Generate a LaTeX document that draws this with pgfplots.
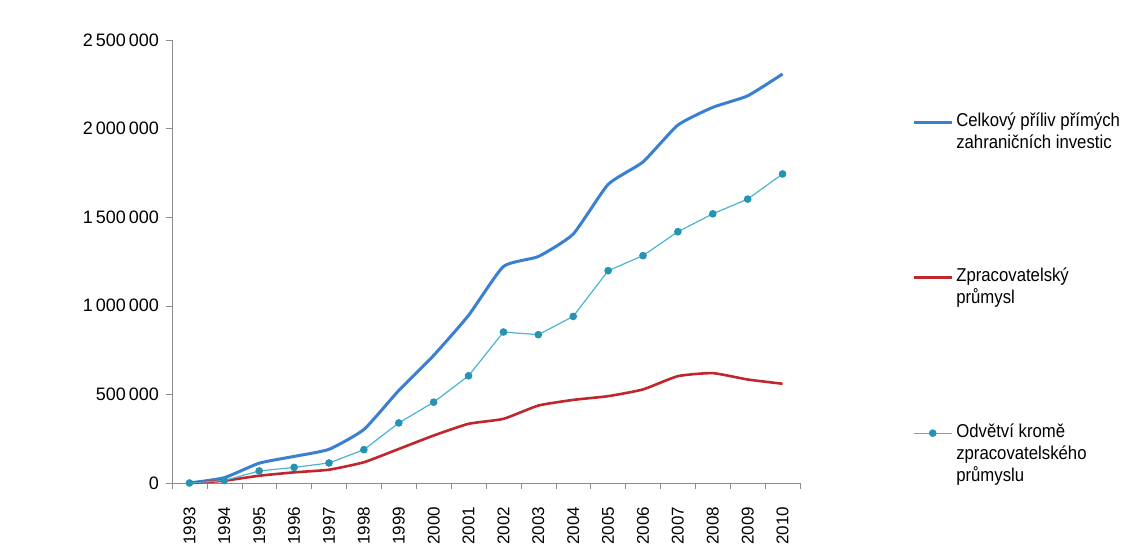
\documentclass[border=0pt]{standalone}
\usepackage{pgfplots}
\pgfplotsset{compat=1.18}
\usepackage{fontspec}
\setmainfont{Liberation Sans}
\newfontfamily\legfont[FakeStretch=0.9]{Liberation Sans}
\definecolor{cblue}{HTML}{3A7FD0}
\definecolor{cred}{HTML}{C0262C}
\definecolor{ccyan}{HTML}{4BB4CF}
\definecolor{cmark}{HTML}{2494B2}
\definecolor{axgray}{HTML}{8C8C8C}
\pgfplotstableread{
x total zprac odv
0 0 0 0
1 30000 13000 14000
2 112000 41000 68000
3 150000 60000 88000
4 190000 75000 113000
5 302000 117000 188000
6 522000 192000 339000
7 720000 268000 456000
8 946000 334000 605000
9 1222000 362000 852000
10 1278000 437000 837000
11 1405000 469000 940000
12 1685000 490000 1198000
13 1812000 528000 1283000
14 2020000 603000 1418000
15 2120000 620000 1519000
16 2185000 584000 1602000
17 2308000 560000 1744000
}\datatab
\begin{document}
\begin{tikzpicture}
\path[use as bounding box] (-86pt,-33.5pt) rectangle ++(567pt,275pt);
\begin{axis}[
  scale only axis, width=314pt, height=221.5pt,
  at={(0,0)}, anchor=south west,
  xmin=-0.5, xmax=17.5, ymin=0, ymax=2500000,
  axis lines=left, axis line style={axgray,-},
  tick style={axgray}, tick align=outside,
  major tick length=3pt, minor tick length=3pt,
  xtick={0,...,17},
  xticklabels={1993,1994,1995,1996,1997,1998,1999,2000,2001,2002,2003,2004,2005,2006,2007,2008,2009,2010},
  major x tick style={draw=none},
  minor xtick={-0.5,0.5,...,17.5},
  xticklabel shift=5.5pt,
  x tick label style={rotate=90, anchor=east, font=\fontsize{8.5}{10}\selectfont},
  ytick={0,500000,1000000,1500000,2000000,2500000},
  scaled y ticks=false,
  y tick label style={font=\fontsize{9}{10}\selectfont, /pgf/number format/fixed, /pgf/number format/1000 sep={\,}},
  /pgf/number format/assume math mode=true,
  clip=false,
  legend cell align=left,
  legend style={draw=none, fill=none, at={(1.178,0.840)}, anchor=north west,
    font=\legfont\fontsize{9.3}{10}\selectfont,
    row sep=0pt, column sep=1.5pt, inner sep=0pt,
    nodes={inner sep=0pt, text height=7.5pt, text depth=3.6pt}},
  legend image code/.code={\draw[mark repeat=2,mark phase=2] plot coordinates {(0cm,0cm)(0.335cm,0cm)(0.67cm,0cm)};},
]
\addplot[cblue, line width=1.5pt, smooth, tension=0.3] table[x=x,y=total]{\datatab};
\addlegendentry{Celkový příliv přímých}
\addlegendimage{empty legend}\addlegendentry{zahraničních investic}
\addlegendimage{empty legend}\addlegendentry{\mbox{}}
\addlegendimage{empty legend}\addlegendentry{\mbox{}}
\addlegendimage{empty legend}\addlegendentry{\mbox{}}
\addlegendimage{empty legend}\addlegendentry{\mbox{}}
\addlegendimage{empty legend}\addlegendentry{\mbox{}}
\addplot[cred, line width=1.3pt, smooth, tension=0.3] table[x=x,y=zprac]{\datatab};
\addlegendentry{Zpracovatelský}
\addlegendimage{empty legend}\addlegendentry{průmysl}
\addlegendimage{empty legend}\addlegendentry{\mbox{}}
\addlegendimage{empty legend}\addlegendentry{\mbox{}}
\addlegendimage{empty legend}\addlegendentry{\mbox{}}
\addlegendimage{empty legend}\addlegendentry{\mbox{}}
\addlegendimage{empty legend}\addlegendentry{\mbox{}}
\addplot[ccyan, line width=0.6pt, mark=*, mark size=1.6pt, mark options={fill=cmark, draw=cmark}] table[x=x,y=odv]{\datatab};
\addlegendentry{Odvětví kromě}
\addlegendimage{empty legend}\addlegendentry{zpracovatelského}
\addlegendimage{empty legend}\addlegendentry{průmyslu}
\end{axis}
\end{tikzpicture}
\end{document}
